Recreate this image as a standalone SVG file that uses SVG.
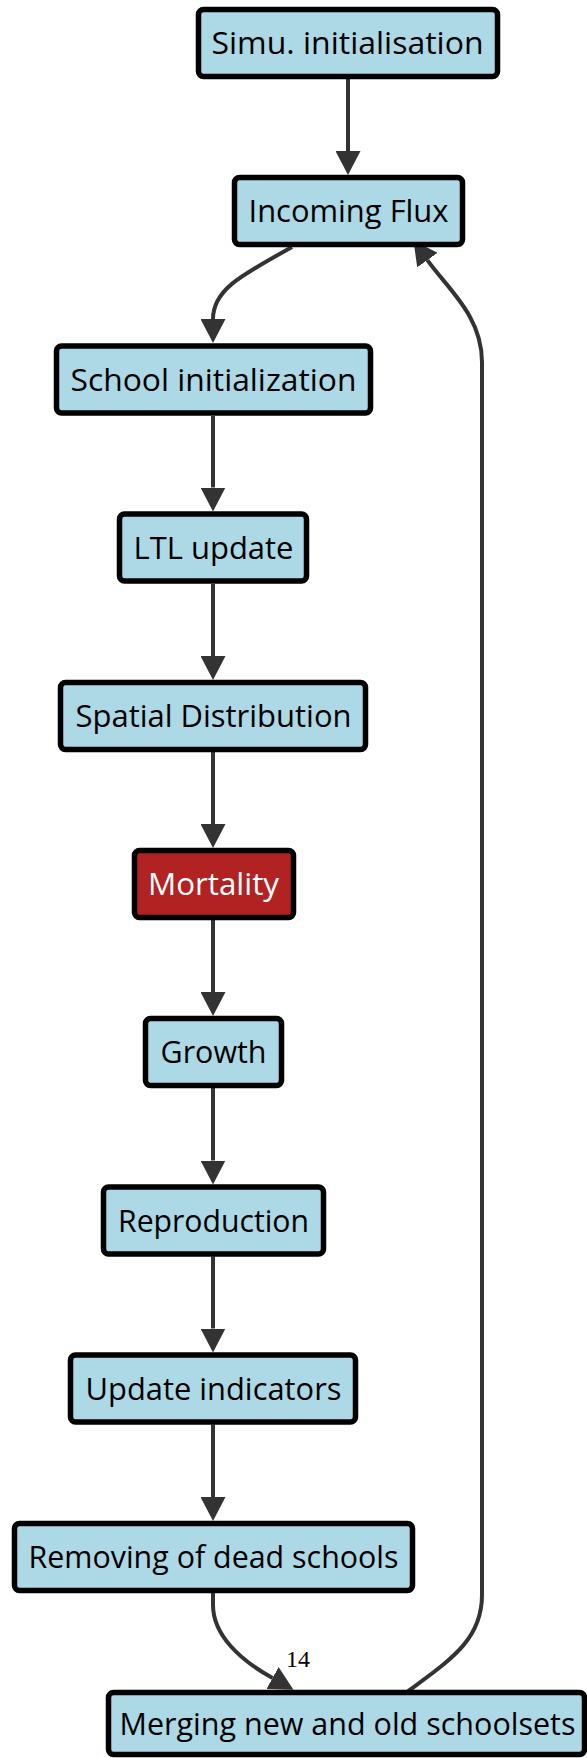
<svg xmlns="http://www.w3.org/2000/svg" width="587" height="1758" viewBox="0 0 587 1758">
  <style>
    .node rect { fill: #add8e6; stroke: #000; stroke-width: 5.5; }
    .node.alert rect { fill: #b22222; }
    .node text { font-family: "Open Sans", "Noto Sans", sans-serif; font-size: 31.5px; fill: #000; text-anchor: middle; }
    .node.alert text { fill: #fff; }
    .edge { fill: none; stroke: #333; stroke-width: 4; marker-end: url(#head); }
    .edge-label { font-family: "Liberation Serif", serif; font-size: 24px; fill: #000; }
  </style>
  <defs>
    <marker id="head" markerUnits="userSpaceOnUse" viewBox="0 0 24 25" refX="0" refY="12.5" markerWidth="24" markerHeight="25" orient="auto">
      <path d="M0,0 L24,12.5 L0,25 z" fill="#333"/>
    </marker>
  </defs>
  <rect width="587" height="1758" fill="#fff"/>

  <!-- connectors (drawn under the nodes) -->
  <g id="connectors">
    <path class="edge" d="M348,79 V151"/>
    <path class="edge" d="M292,247 C240,276 213,290 213,319"/>
    <path class="edge" d="M213,416 V487.5"/>
    <path class="edge" d="M213,584 V656"/>
    <path class="edge" d="M213,752 V824"/>
    <path class="edge" d="M213,920 V992"/>
    <path class="edge" d="M213,1088 V1160.5"/>
    <path class="edge" d="M213,1256.5 V1328.5"/>
    <path class="edge" d="M213,1424.5 V1497"/>
    <path class="edge" d="M213,1593 V1605 C213,1635 240,1660 272.5,1678"/>
    <path class="edge" d="M407,1692 C450,1660 482,1640 482,1595 V362 C482,316 448,289 427.4,260.1"/>
    <text class="edge-label" x="286" y="1667">14</text>
  </g>

  <g id="simu-init" class="node">
    <rect x="198.5" y="9.5" width="299" height="67" rx="5"/>
    <text x="347.5" y="53.5" textLength="272" lengthAdjust="spacingAndGlyphs">Simu. initialisation</text>
  </g>
  <g id="incoming-flux" class="node">
    <rect x="234.5" y="177.5" width="228" height="67" rx="5"/>
    <text x="348.5" y="222" textLength="200" lengthAdjust="spacingAndGlyphs">Incoming Flux</text>
  </g>
  <g id="school-init" class="node">
    <rect x="56.5" y="346" width="314" height="67" rx="5"/>
    <text x="213.5" y="390.5" textLength="286" lengthAdjust="spacingAndGlyphs">School initialization</text>
  </g>
  <g id="ltl-update" class="node">
    <rect x="119.5" y="514" width="187" height="67" rx="5"/>
    <text x="213.5" y="558.5" textLength="160" lengthAdjust="spacingAndGlyphs">LTL update</text>
  </g>
  <g id="spatial-distribution" class="node">
    <rect x="60.5" y="682.5" width="305" height="67" rx="5"/>
    <text x="213.5" y="727" textLength="276" lengthAdjust="spacingAndGlyphs">Spatial Distribution</text>
  </g>
  <g id="mortality" class="node alert">
    <rect x="134.5" y="850.5" width="159" height="67" rx="5"/>
    <text x="213.5" y="895" textLength="131" lengthAdjust="spacingAndGlyphs">Mortality</text>
  </g>
  <g id="growth" class="node">
    <rect x="145.5" y="1018.5" width="136" height="67" rx="5"/>
    <text x="213.5" y="1063" textLength="106" lengthAdjust="spacingAndGlyphs">Growth</text>
  </g>
  <g id="reproduction" class="node">
    <rect x="103.5" y="1187" width="220" height="67" rx="5"/>
    <text x="213.5" y="1231.5" textLength="191" lengthAdjust="spacingAndGlyphs">Reproduction</text>
  </g>
  <g id="update-indicators" class="node">
    <rect x="70.5" y="1355" width="285" height="67" rx="5"/>
    <text x="213.5" y="1399.5" textLength="256" lengthAdjust="spacingAndGlyphs">Update indicators</text>
  </g>
  <g id="removing-dead" class="node">
    <rect x="14.5" y="1523.5" width="398" height="67" rx="5"/>
    <text x="213.5" y="1568" textLength="370" lengthAdjust="spacingAndGlyphs">Removing of dead schools</text>
  </g>
  <g id="merging-schoolsets" class="node">
    <rect x="108.5" y="1692.5" width="476" height="62" rx="5"/>
    <text x="347.5" y="1735" textLength="456" lengthAdjust="spacingAndGlyphs">Merging new and old schoolsets</text>
  </g>
</svg>
